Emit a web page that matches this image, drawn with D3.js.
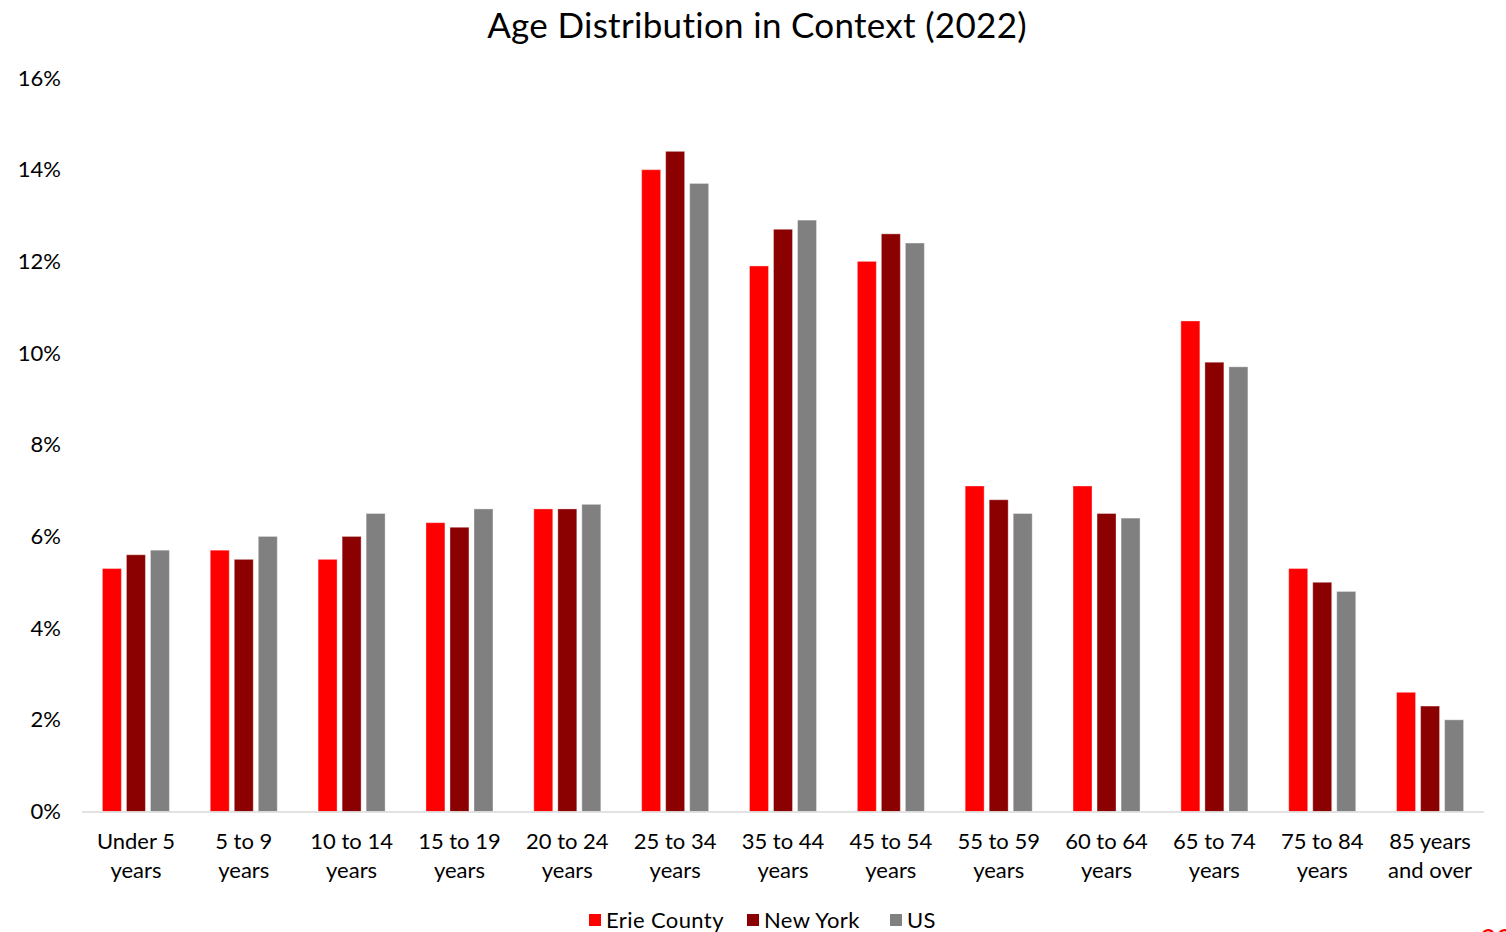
<!DOCTYPE html>
<html>
<head>
<meta charset="utf-8">
<script src="https://cdn.jsdelivr.net/npm/d3@7"></script>
<style>
  html, body { margin: 0; padding: 0; background: #fff; }
  svg { display: block; font-family: "Lato", "Open Sans", sans-serif; }
</style>
</head>
<body>
<svg id="chart" width="1506" height="932"></svg>
<script>
// Age groups (two-line axis labels)
const categories = [
  ["Under 5", "years"], ["5 to 9", "years"], ["10 to 14", "years"],
  ["15 to 19", "years"], ["20 to 24", "years"], ["25 to 34", "years"],
  ["35 to 44", "years"], ["45 to 54", "years"], ["55 to 59", "years"],
  ["60 to 64", "years"], ["65 to 74", "years"], ["75 to 84", "years"],
  ["85 years", "and over"]
];
const seriesNames = ["Erie County", "New York", "US"];
const seriesColors = ["#ff0000", "#8b0000", "#808080"];

// Share of population (%) per age group
const erieCounty = [5.3, 5.7, 5.5, 6.3, 6.6, 14.0, 11.9, 12.0, 7.1, 7.1, 10.7, 5.3, 2.6];
const newYork    = [5.6, 5.5, 6.0, 6.2, 6.6, 14.4, 12.7, 12.6, 6.8, 6.5, 9.8, 5.0, 2.3];
const us         = [5.7, 6.0, 6.5, 6.6, 6.7, 13.7, 12.9, 12.4, 6.5, 6.4, 9.7, 4.8, 2.0];
const yTicks = [0, 2, 4, 6, 8, 10, 12, 14, 16];

const seriesValues = [erieCounty, newYork, us];
const keys = categories.map(c => c.join(" "));

const svg = d3.select("#chart");

const x0 = d3.scaleBand().domain(keys).range([82, 1484]).padding(0);
const groupWidth = 67;
const x1 = d3.scaleBand().domain(seriesNames).range([0, groupWidth]).paddingInner(0.21).paddingOuter(0);
const y = d3.scaleLinear().domain([0, 16]).range([811.5, 78]);

// Title
svg.append("text")
  .attr("x", 757).attr("y", 38)
  .attr("text-anchor", "middle")
  .attr("font-size", 35)
  .attr("letter-spacing", 0.3)
  .attr("fill", "#000")
  .text("Age Distribution in Context (2022)");

// Y axis tick labels
const yAxis = d3.axisLeft(y).tickValues(yTicks).tickFormat(d => d + "%").tickSize(0).tickPadding(0);
const yg = svg.append("g").attr("transform", "translate(61,0)").call(yAxis);
yg.select(".domain").remove();
yg.selectAll("text").attr("font-size", 22).attr("fill", "#000").attr("font-family", "Lato, sans-serif");

// Bars
const groups = svg.append("g").selectAll("g")
  .data(keys)
  .join("g")
  .attr("transform", k => `translate(${x0(k) + (x0.bandwidth() - groupWidth) / 2},0)`);

groups.selectAll("rect")
  .data((k, i) => seriesNames.map((s, j) => ({ s, j, v: seriesValues[j][i] })))
  .join("rect")
  .attr("x", d => x1(d.s))
  .attr("width", x1.bandwidth())
  .attr("y", d => y(d.v))
  .attr("height", d => y(0) - y(d.v))
  .attr("fill", d => seriesColors[d.j])
  .attr("stroke", "#ffffff")
  .attr("stroke-opacity", 0.35)
  .attr("stroke-width", 1);

// Baseline
svg.append("line")
  .attr("x1", 82).attr("x2", 1484)
  .attr("y1", y(0) + 0.5).attr("y2", y(0) + 0.5)
  .attr("stroke", "#d9d9d9").attr("stroke-width", 1.5);

// X axis labels
const xg = svg.append("g");
categories.forEach((c, i) => {
  const cx = x0(keys[i]) + x0.bandwidth() / 2;
  const t = xg.append("text")
    .attr("text-anchor", "middle")
    .attr("font-size", 22)
    .attr("fill", "#000");
  t.append("tspan").attr("x", cx).attr("y", 849).text(c[0]);
  t.append("tspan").attr("x", cx).attr("y", 878).text(c[1]);
});

// Legend
const legendX = [589, 747, 890];
const lg = svg.append("g");
seriesNames.forEach((s, j) => {
  lg.append("rect")
    .attr("x", legendX[j]).attr("y", 914)
    .attr("width", 12).attr("height", 12)
    .attr("fill", seriesColors[j]);
  lg.append("text")
    .attr("x", legendX[j] + 17).attr("y", 928)
    .attr("font-size", 22)
    .attr("letter-spacing", 0.4)
    .attr("fill", "#000")
    .text(s);
});

// Page number, clipped at the bottom edge
svg.append("text")
  .attr("x", 1480).attr("y", 950)
  .attr("font-size", 28)
  .attr("fill", "#ff0000")
  .text("33");
</script>
</body>
</html>
